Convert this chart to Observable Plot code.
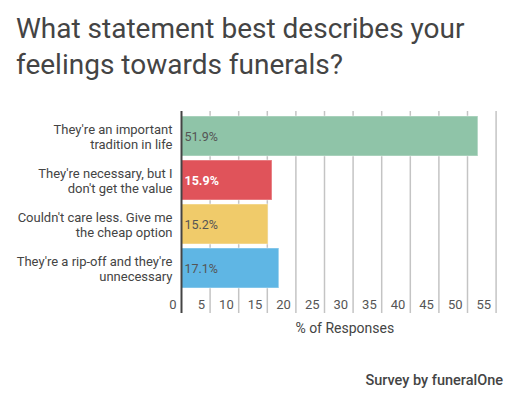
<!DOCTYPE html>
<html>
<head>
<meta charset="utf-8">
<script src="https://cdn.jsdelivr.net/npm/d3@7"></script>
<script src="https://cdn.jsdelivr.net/npm/@observablehq/plot@0.6"></script>
<style>
  html, body { margin: 0; padding: 0; background: #fff; }
  body { width: 524px; height: 398px; overflow: hidden; font-family: Roboto, sans-serif; color: #444; }
  #title { box-sizing: border-box; height: 95px; padding: 11px 0 0 16px; font-size: 28px; line-height: 36px; font-weight: 400; color: #444; }
  #chart svg { display: block; }
  #caption { margin-top: 33px; padding-right: 21px; text-align: right; font-size: 14.5px; line-height: 16px; font-weight: 500; color: #444; }
</style>
</head>
<body>
<div id="title">What statement best describes your<br>feelings towards funerals?</div>
<div id="chart"></div>
<div id="caption">Survey by funeralOne</div>
<script>
const categories = [
  "They're an important\ntradition in life",
  "They're necessary, but I\ndon't get the value",
  "Couldn't care less. Give me\nthe cheap option",
  "They're a rip-off and they're\nunnecessary"
];
const values = [51.9, 15.9, 15.2, 17.1];
const valueLabels = ["51.9%", "15.9%", "15.2%", "17.1%"];
const tickValues = [0, 5, 10, 15, 20, 25, 30, 35, 40, 45, 50, 55];
const gridValues = [5, 10, 15, 20, 25, 30, 35, 40, 45, 50, 55];
const xLabel = "% of Responses";

const barColors = ["#8fc4a8", "#e0535a", "#f0cb6a", "#5fb6e4"];
const labelColors = ["#555", "#fff", "#555", "#555"];
const labelWeights = ["normal", "bold", "normal", "normal"];

const data = categories.map((c, i) => ({cat: c, value: values[i], label: valueLabels[i], i}));

const H = 245;
const chart = Plot.plot({
  width: 524,
  height: H,
  marginLeft: 181,
  marginRight: 28.4,
  marginTop: 16,
  marginBottom: 27,
  style: {fontFamily: "Roboto, sans-serif", color: "#444", background: "#fff"},
  x: {domain: [0, 55], axis: null},
  y: {domain: categories, range: [16, 197], padding: 0.1, axis: null},
  color: {domain: categories, range: barColors},
  marks: [
    Plot.ruleX(gridValues, {x: d => d, stroke: "#c4c4c4", strokeWidth: 1.5}),
    Plot.barX(data, {
      x: "value", y: "cat", fill: "cat",
      stroke: "#fff", strokeOpacity: 0.3, strokeWidth: 1.5
    }),
    Plot.ruleX([0], {stroke: "#444", strokeWidth: 2}),
    ...data.map(d => Plot.text([d], {
      x: 0, y: "cat", text: "label", textAnchor: "start", dx: 3,
      fill: labelColors[d.i], fontWeight: labelWeights[d.i], fontSize: 12.5
    })),
    Plot.text(categories, {
      y: d => d, frameAnchor: "left", textAnchor: "end", dx: -9,
      fontSize: 13, lineHeight: 1.2, fill: "#444", text: d => d
    }),
    Plot.text(tickValues, {
      x: d => d, text: d => String(d), frameAnchor: "bottom", lineAnchor: "middle",
      textAnchor: "end", dx: -5, dy: -9, fontSize: 13, fill: "#555"
    }),
    Plot.text([xLabel], {
      text: d => d, frameAnchor: "bottom", lineAnchor: "middle",
      dx: 6, dy: 15, fontSize: 14, fill: "#444"
    })
  ]
});
document.getElementById("chart").appendChild(chart);
</script>
</body>
</html>
